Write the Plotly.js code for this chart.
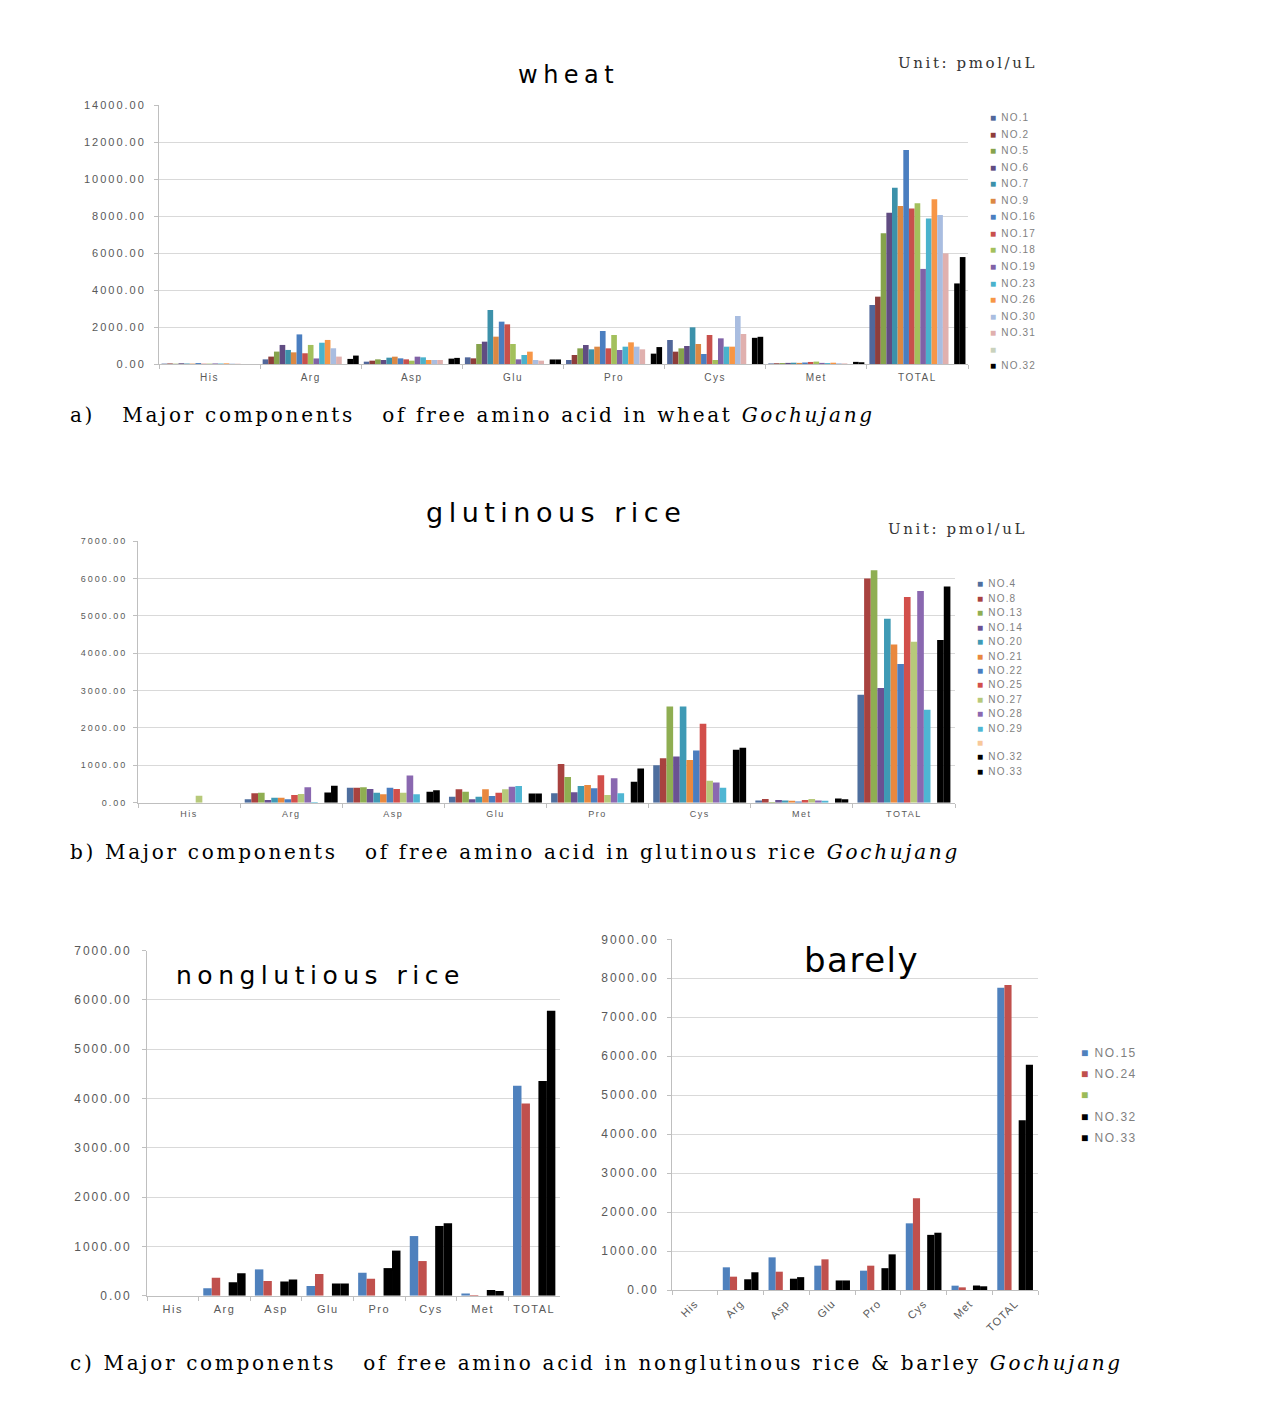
<!DOCTYPE html>
<html><head><meta charset="utf-8">
<script src="https://cdn.plot.ly/plotly-3.0.1.min.js"></script>
<style>
body{margin:0;background:#fff}#chart{width:1262px;height:1407px}
#chart g.ytick > text{letter-spacing:2px}
#chart g.y2tick > text{letter-spacing:2px}
#chart g.y3tick > text{letter-spacing:2px}
#chart g.y4tick > text{letter-spacing:2px}
#chart g.xtick > text{letter-spacing:1.5px}
#chart g.x2tick > text{letter-spacing:1.5px}
#chart g.x3tick > text{letter-spacing:1.5px}
#chart g.x4tick > text{letter-spacing:1px}
</style>
</head><body><div id="chart"></div>
<script>
// ---------- categories ----------
const categories = ["His","Arg","Asp","Glu","Pro","Cys","Met","TOTAL"];

// ---------- shared control samples (appear in all charts) ----------
const NO32 = [0, 275, 290, 245, 560, 1415, 115, 4355];
const NO33 = [0, 455, 330, 245, 915, 1470, 95, 5780];
const blankSeries = [0, 0, 0, 0, 0, 0, 0, 0];

// ---------- wheat (pmol/uL) ----------
const wheatNO1  = [20, 250, 126, 360, 216, 1297, 30, 3190];
const wheatNO2  = [30, 400, 180, 306, 487, 667, 40, 3640];
const wheatNO5  = [15, 670, 252, 1081, 847, 847, 50, 7065];
const wheatNO6  = [40, 1030, 216, 1207, 1027, 973, 60, 8180];
const wheatNO7  = [25, 760, 342, 2919, 793, 1982, 70, 9530];
const wheatNO9  = [20, 630, 396, 1478, 937, 1081, 60, 8540];
const wheatNO16 = [50, 1600, 306, 2289, 1784, 540, 80, 11570];
const wheatNO17 = [15, 580, 252, 2144, 847, 1568, 110, 8410];
const wheatNO18 = [20, 1030, 180, 1081, 1568, 216, 130, 8690];
const wheatNO19 = [30, 300, 396, 252, 757, 1387, 60, 5140];
const wheatNO23 = [25, 1150, 360, 487, 937, 937, 50, 7870];
const wheatNO26 = [35, 1300, 216, 667, 1171, 937, 70, 8900];
const wheatNO30 = [20, 850, 216, 216, 937, 2595, 40, 8050];
const wheatNO31 = [15, 400, 216, 180, 793, 1622, 30, 5980];
const wheatNames = ["NO.1","NO.2","NO.5","NO.6","NO.7","NO.9","NO.16","NO.17","NO.18","NO.19","NO.23","NO.26","NO.30","NO.31","","NO.32","NO.33"];
const wheatSeries = [wheatNO1,wheatNO2,wheatNO5,wheatNO6,wheatNO7,wheatNO9,wheatNO16,wheatNO17,wheatNO18,wheatNO19,wheatNO23,wheatNO26,wheatNO30,wheatNO31,blankSeries,NO32,NO33];
const wheatColors = ["#51679a","#8e3d3b","#86a34c","#604c82","#3c91aa","#dc8843","#4a7ec0","#c8504c","#a3c05c","#8062a6","#4ab2cc","#f79646","#a9bde0","#e0b0ae","#c9d2bd","#000000","#000000"];
const wheatLegendCount = 16;

// ---------- glutinous rice ----------
const gluNO4  = [0, 90, 402, 161, 250, 1002, 60, 2889];
const gluNO8  = [0, 250, 402, 358, 1037, 1190, 100, 6000];
const gluNO13 = [0, 268, 411, 295, 689, 2576, 20, 6216];
const gluNO14 = [0, 72, 367, 90, 277, 1234, 70, 3068];
const gluNO20 = [0, 134, 268, 161, 447, 2576, 60, 4919];
const gluNO21 = [0, 134, 224, 358, 474, 1145, 50, 4231];
const gluNO22 = [0, 90, 402, 179, 385, 1395, 30, 3712];
const gluNO25 = [0, 206, 367, 268, 733, 2111, 70, 5501];
const gluNO27 = [188, 232, 268, 358, 206, 590, 100, 4302];
const gluNO28 = [0, 411, 725, 429, 653, 537, 60, 5662];
const gluNO29 = [0, 20, 224, 447, 250, 402, 50, 2487];
const gluNames = ["NO.4","NO.8","NO.13","NO.14","NO.20","NO.21","NO.22","NO.25","NO.27","NO.28","NO.29","","NO.32","NO.33"];
const gluSeries = [gluNO4,gluNO8,gluNO13,gluNO14,gluNO20,gluNO21,gluNO22,gluNO25,gluNO27,gluNO28,gluNO29,blankSeries,NO32,NO33];
const gluColors = ["#4e6e9e","#a8423f","#8fae52","#6a5193","#3f9ab5","#e9883e","#4a7dbf","#d24f4b","#b7c97a","#8a68b0","#4fb6d3","#f8c89a","#000000","#000000"];

// ---------- nonglutinous rice ----------
const ngBlue = [0, 149, 534, 196, 467, 1210, 47, 4260];
const ngRed  = [0, 365, 297, 440, 345, 703, 15, 3900];
const ngNames = ["", "", "", "NO.32", "NO.33"];
const ngSeries = [ngBlue, ngRed, blankSeries, NO32, NO33];

// ---------- barley ----------
const barNO15 = [0, 582, 838, 624, 496, 1711, 111, 7759];
const barNO24 = [0, 342, 470, 787, 624, 2352, 68, 7827];
const barNames = ["NO.15","NO.24","","NO.32","NO.33"];
const barSeries = [barNO15, barNO24, blankSeries, NO32, NO33];
const fiveColors = ["#4f81bd","#c0504d","#9bbb59","#000000","#000000"];

// ---------- tick values ----------
const wheatTicks = [0,2000,4000,6000,8000,10000,12000,14000];
const riceTicks  = [0,1000,2000,3000,4000,5000,6000,7000];
const barTicks   = [0,1000,2000,3000,4000,5000,6000,7000,8000,9000];

// ================= build =================
const W = 1262, H = 1407;
const traces = [];
function addBars(names, series, colors, xa, ya) {
  names.forEach((n, i) => {
    traces.push({type:'bar', name: n || ' ', x: categories, y: series[i],
      marker:{color: colors[i], line:{width:0}}, xaxis: xa, yaxis: ya,
      showlegend:false, hovertemplate: (n||'')+' %{x}: %{y:.2f}<extra></extra>'});
  });
}
addBars(wheatNames, wheatSeries, wheatColors, 'x', 'y');
addBars(gluNames, gluSeries, gluColors, 'x2', 'y2');
addBars(ngNames, ngSeries, fiveColors, 'x3', 'y3');
addBars(barNames, barSeries, fiveColors, 'x4', 'y4');

const gridC = '#d9d9d9', lineC = '#bfbfbf', tickC = '#595959';
function yax(domain, range, ticks, fs, standoff) {
  return {domain, range, tickvals: ticks, tickformat: '.2f', showgrid:true, gridcolor:gridC, gridwidth:1,
    showline:true, linecolor:lineC, ticks:'outside', ticklen:4, tickcolor:lineC, zeroline:false,
    ticklabelstandoff: standoff,
    tickfont:{family:'Liberation Sans, Arial, sans-serif', size:fs, color:tickC}, fixedrange:true};
}
function xax(domain, anchor, fs, angle, standoff) {
  return {domain, anchor, type:'category', showline:true, linecolor:lineC, ticks:'outside', ticklen:4,
    tickcolor:lineC, tickson:'boundaries', showgrid:false, tickangle: angle, ticklabelstandoff: standoff,
    tickfont:{family:'Liberation Sans, Arial, sans-serif', size:fs, color:tickC}, fixedrange:true};
}
const px = v => v / W, py = v => 1 - v / H;

const annotations = [];
function ann(text, x, y, size, opts) {
  annotations.push(Object.assign({text, x: px(x), y: py(y), xref:'paper', yref:'paper',
    xanchor:'left', yanchor:'middle', showarrow:false,
    font:{family:'DejaVu Sans, sans-serif', size, color:'#000'}}, opts || {}));
}
// titles
ann('<span style="letter-spacing:5.5px">wheat</span>', 568, 75, 24, {xanchor:'center'});
ann('<span style="letter-spacing:5.5px">glutinous rice</span>', 556, 512, 27, {xanchor:'center'});
ann('<span style="letter-spacing:5.5px">nonglutious rice</span>', 174, 975, 25);
ann('<span style="letter-spacing:1.5px">barely</span>', 802, 960, 34);
// unit labels
const unitFont = {family:'DejaVu Serif, serif', size:15, color:'#333'};
ann('<span style="letter-spacing:2.6px">Unit: pmol/uL</span>', 896, 63, 15, {font:unitFont});
ann('<span style="letter-spacing:2.6px">Unit: pmol/uL</span>', 886, 529, 15, {font:unitFont});
// legends
function legend(names, colors, count, x0, y0, step, fs, ls) {
  for (let i = 0; i < count; i++) {
    const label = names[i] ? ' ' + names[i] : '';
    ann('<span style="letter-spacing:' + ls + 'px"><span style="color:' + colors[i] + '">■</span>' + label + '</span>', x0, y0 + i * step, fs,
      {font:{family:'Liberation Sans, Arial, sans-serif', size:fs, color:'#7f7f7f'}});
  }
}
legend(wheatNames, wheatColors, wheatLegendCount, 988, 117.5, 16.55, 10, 1.2);
legend(gluNames, gluColors, gluNames.length, 975, 584, 14.4, 10, 1.2);
legend(barNames, fiveColors, barNames.length, 1079, 1052.5, 21.4, 12, 1.5);
// captions
const capFont = {family:'DejaVu Serif, Liberation Serif, serif', size:20, color:'#000'};
const nb = '\u00a0';
ann('<span style="letter-spacing:2.7px">a)' + nb + nb + nb + 'Major components' + nb + nb + nb + 'of free amino acid in wheat <i>Gochujang</i></span>', 68, 415, 20, {font:capFont});
ann('<span style="letter-spacing:2.7px">b)' + nb + 'Major components' + nb + nb + nb + 'of free amino acid in glutinous rice <i>Gochujang</i></span>', 68, 852, 20, {font:capFont});
ann('<span style="letter-spacing:2.7px">c)' + nb + 'Major components' + nb + nb + nb + 'of free amino acid in nonglutinous rice &amp; barley <i>Gochujang</i></span>', 68, 1363, 20, {font:capFont});

const layout = {
  width: W, height: H, margin:{l:0, r:0, t:0, b:0}, paper_bgcolor:'#fff', plot_bgcolor:'rgba(0,0,0,0)',
  showlegend:false, barmode:'group', bargroupgap:0,
  xaxis:  xax([159/W, 968/W], 'y', 10, 0, 4),
  yaxis:  yax([1-364/H, 1-105/H], [0,14000], wheatTicks, 11, 6),
  xaxis2: xax([138/W, 955/W], 'y2', 9, 0, 2),
  yaxis2: yax([1-802.7/H, 1-541/H], [0,7000], riceTicks, 9, 4),
  xaxis3: xax([147/W, 560/W], 'y3', 11, 0, 3),
  yaxis3: yax([1-1295.7/H, 1-950.7/H], [0,7000], riceTicks, 12, 8),
  xaxis4: xax([672/W, 1038/W], 'y4', 11, -45, 2),
  yaxis4: yax([1-1290/H, 1-939.3/H], [0,9000], barTicks, 12, 6),
  annotations
};
layout.yaxis.anchor = 'x'; layout.yaxis2.anchor = 'x2'; layout.yaxis3.anchor = 'x3'; layout.yaxis4.anchor = 'x4';
// bar slot widths per subplot (gap between category groups)
const gaps = {x:0.05, x2:0.09, x3:0.18, x4:0.22};
const counts = {x:wheatNames.length, x2:gluNames.length, x3:ngNames.length, x4:barNames.length};
const idx = {x:0, x2:0, x3:0, x4:0};
traces.forEach(t => {
  const n = counts[t.xaxis], g = gaps[t.xaxis], i = idx[t.xaxis]++;
  const w = (1 - g) / n;
  t.width = w;
  t.offset = -(1 - g) / 2 + i * w;
});
Plotly.newPlot('chart', traces, layout, {displayModeBar:false, staticPlot:true});
</script>
</body></html>
